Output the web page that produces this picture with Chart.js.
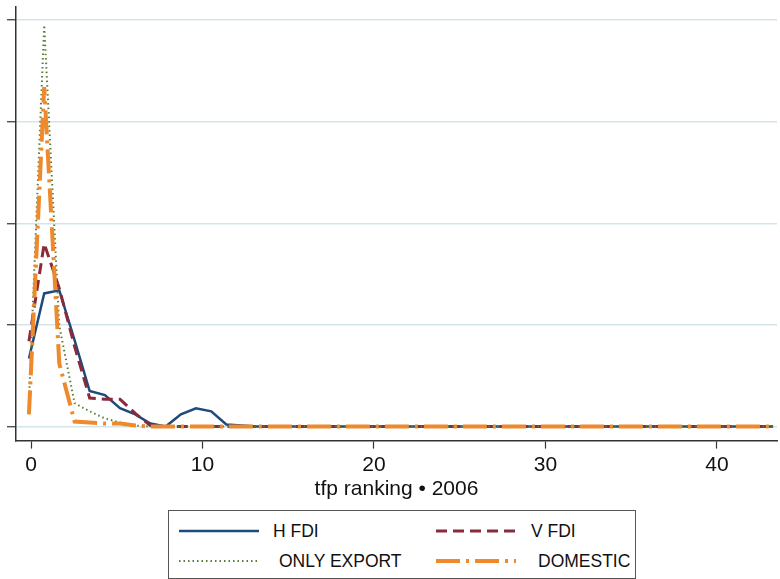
<!DOCTYPE html>
<html>
<head>
<meta charset="utf-8">
<script src="https://cdn.jsdelivr.net/npm/chart.js@4.4.1/dist/chart.umd.min.js"></script>
<style>
  body { margin: 0; background: #fff; }
  #wrap { position: relative; width: 780px; height: 579px; }
  #legend {
    position: absolute; left: 168px; top: 510px; width: 466px; height: 67px;
    border: 1px solid #555; background: #fff;
    font-family: "Liberation Sans", Arial, sans-serif; font-size: 17.5px; color: #111;
  }
  .item { position: absolute; height: 20px; }
  .item svg { position: absolute; left: 0; top: 4px; }
  .item span { position: absolute; top: 0; white-space: nowrap; line-height: 20px; }
</style>
</head>
<body>
<div id="wrap">
  <canvas id="myChart" width="780" height="579"></canvas>
  <div id="legend"></div>
</div>
<script>
// kdensity grid (tfp ranking)
const xs = [-0.12, 0.77, 1.65, 2.54, 3.42, 4.31, 5.19, 6.08, 6.96, 7.85,
  8.74, 9.62, 10.51, 11.39, 12.28, 13.16, 14.05, 14.93, 15.82, 16.70,
  17.59, 18.48, 19.36, 20.25, 21.13, 22.02, 22.90, 23.79, 24.67, 25.56,
  26.45, 27.33, 28.22, 29.10, 29.99, 30.87, 31.76, 32.64, 33.53, 34.41,
  35.30, 36.19, 37.07, 37.96, 38.84, 39.73, 40.61, 41.50, 42.38, 43.27];

const hFdi = [0.67, 1.31, 1.34, 0.85, 0.35, 0.31, 0.18, 0.12, 0.03, 0.00,
  0.12, 0.18, 0.15, 0.02, 0.01, 0, 0, 0, 0, 0,
  0, 0, 0, 0, 0, 0, 0, 0, 0, 0,
  0, 0, 0, 0, 0, 0, 0, 0, 0, 0,
  0, 0, 0, 0, 0, 0, 0, 0, 0, 0];
const vFdi = [0.84, 1.80, 1.36, 0.79, 0.28, 0.27, 0.27, 0.13, 0.01, 0,
  0, 0, 0, 0, 0, 0, 0, 0, 0, 0,
  0, 0, 0, 0, 0, 0, 0, 0, 0, 0,
  0, 0, 0, 0, 0, 0, 0, 0, 0, 0,
  0, 0, 0, 0, 0, 0, 0, 0, 0, 0];
const onlyExport = [0.25, 3.95, 0.99, 0.23, 0.15, 0.08, 0.04, 0.01, 0, 0,
  0, 0, 0, 0, 0, 0, 0, 0, 0, 0,
  0, 0, 0, 0, 0, 0, 0, 0, 0, 0,
  0, 0, 0, 0, 0, 0, 0, 0, 0, 0,
  0, 0, 0, 0, 0, 0, 0, 0, 0, 0];
const domestic = [0.12, 3.34, 0.62, 0.05, 0.04, 0.03, 0.03, 0.01, 0, 0,
  0, 0, 0, 0, 0, 0, 0, 0, 0, 0,
  0, 0, 0, 0, 0, 0, 0, 0, 0, 0,
  0, 0, 0, 0, 0, 0, 0, 0, 0, 0,
  0, 0, 0, 0, 0, 0, 0, 0, 0, 0];

const xTicks = [0, 10, 20, 30, 40];
const yTicks = [0, 1, 2, 3, 4];
const xTitle = "tfp ranking \u2022 2006";

const series = [
  { label: "H FDI", data: hFdi, color: "#1f4a7c", width: 2.5, dash: [], order: 3 },
  { label: "V FDI", data: vFdi, color: "#8a2a3a", width: 3, dash: [11, 6], order: 2 },
  { label: "ONLY EXPORT", data: onlyExport, color: "#5a7d3c", width: 2, dash: [1.5, 3], order: 1 },
  { label: "DOMESTIC", data: domestic, color: "#ee8a2c", width: 4, dash: [24, 6, 3, 6], order: 0 }
];

const datasets = series.map(s => ({
  label: s.label,
  data: xs.map((x, i) => ({ x: x, y: s.data[i] })),
  borderColor: s.color,
  borderWidth: s.width,
  borderDash: s.dash,
  pointRadius: 0,
  tension: 0,
  fill: false,
  order: s.order
}));

const font = "'Liberation Sans', Arial, sans-serif";

new Chart(document.getElementById("myChart"), {
  type: "line",
  data: { datasets: datasets },
  options: {
    responsive: false,
    animation: false,
    layout: { padding: { left: 7, top: 7, right: 3, bottom: 77 } },
    plugins: { legend: { display: false }, tooltip: { enabled: false } },
    scales: {
      x: {
        type: "linear",
        min: -0.875,
        max: 43.5,
        afterBuildTicks: axis => { axis.ticks = xTicks.map(v => ({ value: v })); },
        grid: { drawOnChartArea: false, tickLength: 8, tickColor: "#333", tickWidth: 1.2 },
        border: { color: "#333", width: 1.5 },
        ticks: { font: { family: font, size: 21 }, color: "#111", padding: 4, maxRotation: 0 },
        title: { display: true, text: xTitle, font: { family: font, size: 21 }, color: "#111", padding: { top: -5, bottom: 0 } }
      },
      y: {
        min: -0.138,
        max: 4.128,
        afterBuildTicks: axis => { axis.ticks = yTicks.map(v => ({ value: v })); },
        grid: { color: "#d3e5ea", lineWidth: 1.5, tickLength: 9, tickColor: "#333", tickWidth: 1.2 },
        border: { color: "#333", width: 1.5 },
        ticks: { display: false }
      }
    }
  }
});

// legend box in two columns
const legend = document.getElementById("legend");
const spots = [
  { left: 10, top: 10, text: 94 },
  { left: 267, top: 10, text: 95 },
  { left: 10, top: 40, text: 100 },
  { left: 267, top: 40, text: 102 }
];
series.forEach((s, i) => {
  const p = spots[i];
  const item = document.createElement("div");
  item.className = "item";
  item.style.left = p.left + "px";
  item.style.top = p.top + "px";
  item.innerHTML = `
    <svg width="82" height="12"><line x1="0" y1="6" x2="80" y2="6" stroke="${s.color}"
      stroke-width="${s.width}" stroke-dasharray="${s.dash.join(' ')}"/></svg>
    <span style="left:${p.text}px">${s.label}</span>`;
  legend.appendChild(item);
});
</script>
</body>
</html>
